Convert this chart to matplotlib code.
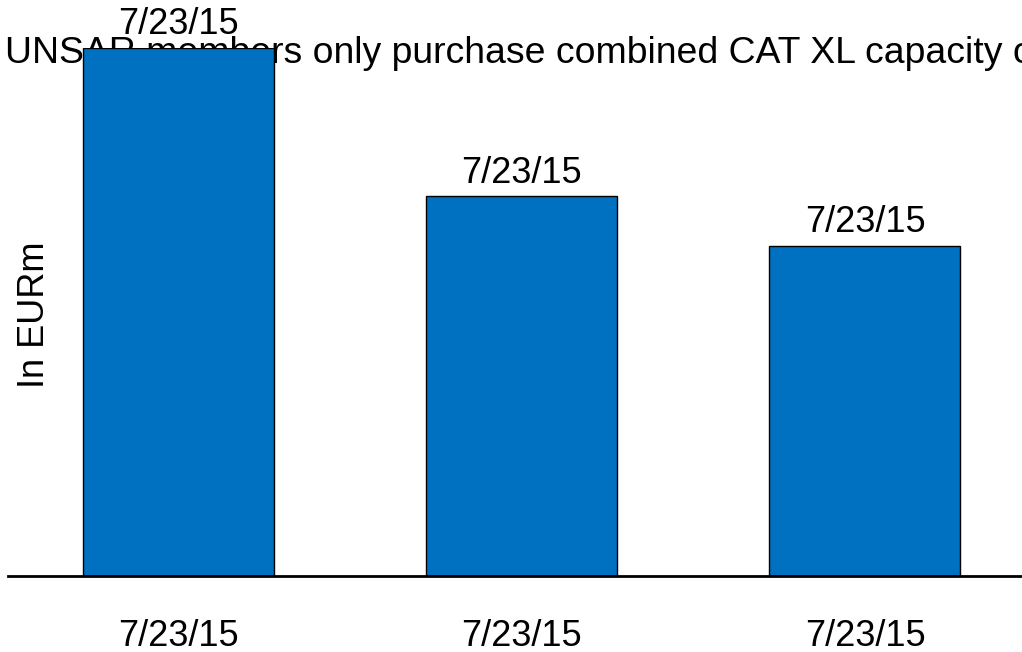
import matplotlib
matplotlib.use("Agg")
import matplotlib.pyplot as plt

categories = ["7/23/15", "7/23/15", "7/23/15"]
values = [160, 115, 100]
value_labels = ["7/23/15", "7/23/15", "7/23/15"]
title = "UNSAR members only purchase combined CAT XL capacity of"
ylabel = "In EURm"

plt.rcParams['font.family'] = ['Liberation Sans', 'DejaVu Sans']

fig = plt.figure(figsize=(10.22, 6.52), dpi=100)
ax = fig.add_axes([8/1022, 76/652, 1027/1022, (576-48)/652])

x = list(range(len(values)))
bars = ax.bar(x, values, width=0.556, color="#0070C0", edgecolor="black", linewidth=1.0, zorder=2)
ax.set_xlim(-0.495, 2.495)
ax.set_ylim(0, 160)

for xi, v, lab in zip(x, values, value_labels):
    ax.annotate(lab, (xi, v), xytext=(0, 10), textcoords="offset points",
                ha="center", va="baseline", fontsize=26, zorder=3, annotation_clip=False)

ax.set_xticks(x)
ax.set_xticklabels(categories, fontsize=26)
ax.tick_params(axis="x", length=0, pad=31)
ax.set_yticks([])
for s in ["left", "right", "top"]:
    ax.spines[s].set_visible(False)
ax.spines["bottom"].set_linewidth(2)
ax.spines["bottom"].set_zorder(3)

ax.text(5/1022, 1 - 63/652, title, transform=fig.transFigure, fontsize=26.9,
        ha="left", va="baseline", zorder=0, clip_on=False)
fig.text(35/1022, 1 - 315/652, ylabel, rotation=90, fontsize=26, ha="center", va="center")

fig.savefig("out.png", dpi=100)
